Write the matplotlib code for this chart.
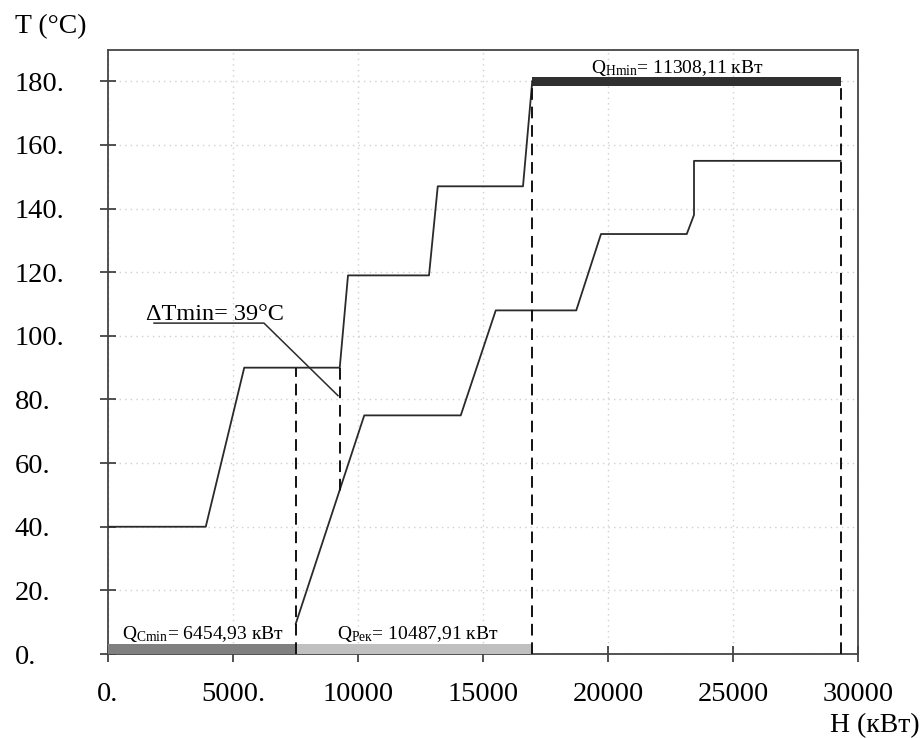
import matplotlib
matplotlib.use("Agg")
import matplotlib.pyplot as plt

plt.rcParams['font.family'] = ['Liberation Serif', 'DejaVu Serif']
plt.rcParams['mathtext.fontset'] = 'custom'
plt.rcParams['mathtext.rm'] = 'Liberation Serif'
plt.rcParams['mathtext.it'] = 'Liberation Serif:italic'

# upper composite curve (H in kW, T in degC)
upper_H = [0, 3910, 5450, 9270, 9600, 12840, 13190, 16600, 16970]
upper_T = [40, 40, 90, 90, 119, 119, 147, 147, 180]

# lower composite curve
lower_H = [7510, 10250, 14110, 15510, 18730, 19720, 23150, 23440, 23440, 29300]
lower_T = [9.5, 75, 75, 108, 108, 132, 132, 138, 155, 155]

# utility / recovery segments: (start H, end H)
q_cmin = (0, 7510)
q_rec = (7510, 16970)
q_hmin = (16970, 29300)

# dT_min marker
dtmin_H = 9270
dtmin_T = (90, 51.3)

x_ticks = [0, 5000, 10000, 15000, 20000, 25000, 30000]
x_tick_labels = ['0.', '5000.', '10000', '15000', '20000', '25000', '30000']
y_ticks = [0, 20, 40, 60, 80, 100, 120, 140, 160, 180]
y_tick_labels = ['0.', '20.', '40.', '60.', '80.', '100.', '120.', '140.', '160.', '180.']

fig = plt.figure(figsize=(9.23, 7.38), dpi=100)
ax = fig.add_axes([108 / 923, 1 - 654 / 738, 750 / 923, (654 - 49.5) / 738])

ax.set_xlim(0, 30000)
ax.set_ylim(0, 190)
ax.grid(True, color='#d0d0d0', linestyle=(0, (1, 3)), linewidth=1)
ax.set_axisbelow(True)

# bars
ax.broken_barh([(q_cmin[0], q_cmin[1] - q_cmin[0])], (0, 3.3), facecolors='#808080', zorder=3)
ax.broken_barh([(q_rec[0], q_rec[1] - q_rec[0])], (0, 3.3), facecolors='#c0c0c0', zorder=3)
ax.broken_barh([(q_hmin[0], q_hmin[1] - q_hmin[0])], (178.6, 2.9), facecolors='#303030', zorder=3)

# curves
ax.plot(upper_H, upper_T, color='#2a2a2a', lw=1.3, zorder=4)
ax.plot(lower_H, lower_T, color='#2a2a2a', lw=1.3, zorder=4)

# dashed guide lines
dash = dict(color='#111111', lw=1.4, linestyle=(0, (6, 3.5)), zorder=4)
ax.plot([q_cmin[1], q_cmin[1]], [0, 90], **dash)
ax.plot([dtmin_H, dtmin_H], list(dtmin_T), **dash)
ax.plot([q_rec[1], q_rec[1]], [0, 180], **dash)
ax.plot([q_hmin[1], q_hmin[1]], [0, 180], **dash)

# dT_min annotation with leader
ax.plot([1840, 6240, 9200], [104, 104, 81.2], color='#2a2a2a', lw=1.1, zorder=4)
ax.text(1520, 105, 'ΔTmin= 39°C', fontsize=17.5, va='baseline', ha='left')

ax.text(sum(q_hmin) / 2 - 350, 182.5, r'Q$_{\mathrm{Hmin}}$= 11308,11 кВт', fontsize=14,
        ha='center', va='baseline')
ax.text(sum(q_cmin) / 2 + 30, 4.8, r'Q$_{\mathrm{Cmin}}$= 6454,93 кВт', fontsize=14,
        ha='center', va='baseline')
ax.text(sum(q_rec) / 2 + 150, 4.8, r'Q$_{\mathrm{Рек}}$= 10487,91 кВт', fontsize=14,
        ha='center', va='baseline')

ax.set_xticks(x_ticks)
ax.set_xticklabels(x_tick_labels)
ax.set_yticks(y_ticks)
ax.set_yticklabels(y_tick_labels)
for lab in ax.get_yticklabels():
    lab.set_horizontalalignment('left')
ax.tick_params(axis='both', direction='inout', length=11, width=1.2, color='#333333',
               labelsize=20.5)
ax.tick_params(axis='y', pad=61.5)
ax.tick_params(axis='x', pad=15)

for s in ax.spines.values():
    s.set_color('#444444')
    s.set_linewidth(1.3)

fig.text(15 / 923, 1 - 33 / 738, 'T (°C)', fontsize=20, va='baseline', ha='left')
fig.text(920 / 923, 1 - 732 / 738, 'H (кВт)', fontsize=20, va='baseline', ha='right')

fig.savefig('out.png', dpi=100)
